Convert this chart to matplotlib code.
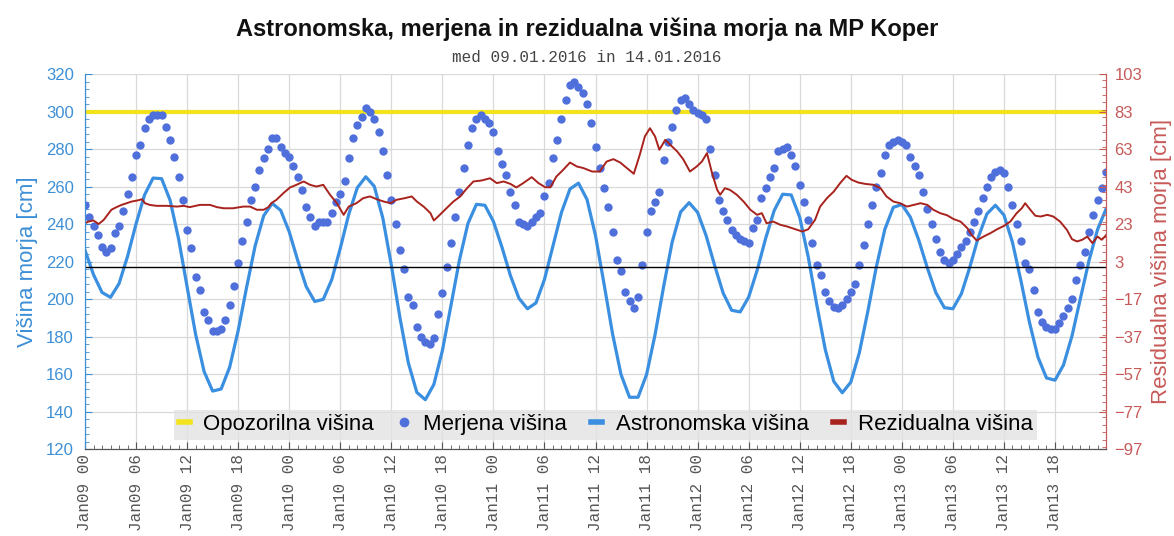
import matplotlib
matplotlib.use("Agg")
import matplotlib.pyplot as plt
import matplotlib.dates as mdates
from matplotlib.lines import Line2D
from matplotlib.ticker import MultipleLocator, FixedLocator
import numpy as np
import pandas as pd

plt.rcParams["font.family"] = ["Liberation Sans", "DejaVu Sans"]

start = pd.Timestamp("2016-01-09 00:00")

# measured sea level, every 30 min [cm]
measured_cm = [
    250, 244, 239, 234, 228, 225, 227, 235, 239, 247, 256, 265,
    277, 282, 291, 296, 298, 298, 298, 292, 285, 276, 265, 253,
    237, 227, 212, 205, 193, 189, 183, 183, 184, 189, 197, 207,
    219, 231, 241, 253, 260, 269, 275, 280, 286, 286, 281, 278,
    276, 271, 265, 258, 249, 244, 239, 241, 241, 241, 246, 252,
    256, 263, 275, 286, 293, 297, 302, 300, 296, 289, 279, 266,
    253, 240, 226, 216, 201, 197, 185, 180, 177, 176, 179, 192,
    203, 217, 230, 244, 257, 270, 282, 291, 296, 298, 296, 294,
    289, 279, 272, 266, 257, 250, 241, 240, 239, 241, 244, 246,
    255, 262, 275, 285, 296, 306, 314, 316, 313, 310, 304, 294,
    281, 270, 259, 249, 236, 221, 215, 204, 199, 195, 201, 218,
    236, 247, 252, 257, 274, 284, 292, 301, 306, 307, 304, 301,
    299, 298, 296, 280, 266, 253, 247, 242, 237, 234, 232, 231,
    230, 238, 242, 254, 259, 265, 270, 279, 280, 281, 277, 271,
    261, 252, 242, 230, 218, 213, 204, 199, 196, 195, 197, 200,
    204, 208, 218, 229, 240, 250, 260, 267, 277, 282, 284, 285,
    284, 282, 276, 271, 266, 257, 248, 240, 232, 225, 221, 219,
    221, 224, 228, 231, 236, 241, 247, 254, 260, 265, 268, 269,
    267, 260, 250, 240, 231, 219, 216, 205, 193, 188, 185, 184,
    184, 187, 191, 195, 200, 210, 218, 225, 236, 245, 253, 259,
    268,
]

# astronomical tide, hourly [cm]
astro_cm = [
    226, 213, 203.5, 200.9, 208.2, 222.7, 240.1, 255.5, 264.5,
    264.2, 252.7, 232.1, 206.5, 181.2, 161.3, 150.9,
    152.0, 163.6, 183.1, 206.4, 228.4, 244.4, 251.0,
    247.3, 235.9, 220.6, 206.6, 198.7,
    199.8, 210.3, 227.0, 245.2, 259.3, 265.2,
    260.1, 243.2, 218.2, 190.4, 166.0, 150.2,
    146.3, 154.4, 172.4, 196.3, 220.6, 240.2, 250.5,
    250.0, 241.4, 227.7, 212.5, 200.4, 194.8,
    197.9, 210.4, 228.3, 246.2, 258.7, 261.8,
    253.1, 233.8, 208.1, 181.5, 159.7, 147.6,
    147.6, 159.7, 181.0, 206.5, 230.2, 246.4, 251.4,
    246.2, 233.8, 217.9, 203.2, 194.0,
    193.1, 201.0, 215.4, 232.4, 247.2, 255.9,
    255.5, 243.6, 222.5, 197.1, 173.1, 156.1, 150.0,
    155.6, 171.2, 193.3, 217.0, 237.1, 248.9,
    250.4, 243.7, 231.3, 216.6, 203.4, 195.4,
    194.8, 202.8, 217.1, 233.1, 245.4, 250.0,
    244.8, 230.3, 209.7, 187.6, 169.0, 157.9,
    156.7, 164.8, 180.3, 200.5, 220.5, 237.0, 248.0,
]

# residual sea level [cm], read at irregular times (hours after start)
res_hours = [
    0, 0.4, 1.0, 1.6, 2.2, 2.5, 3.1, 3.7, 4.3, 4.9, 5.5, 6.1, 6.7, 7.05,
    7.6, 8.4, 9.6, 10.8, 11.6, 12.3, 13.5, 14.7, 15.5, 16.3, 17.4, 18.6,
    19.4, 20.2, 21.0, 21.55, 21.9, 22.5, 23.3, 24.1, 24.9, 25.7, 26.45,
    27.2, 28.0, 28.8, 29.6, 30.4, 31.0, 31.9, 32.7, 33.5, 34.3, 35.1,
    35.9, 36.6, 37.6, 38.4, 39.0, 39.8, 40.6, 41.0, 41.5, 42.3, 43.3,
    44.1, 44.9, 45.65, 46.6, 47.6, 48.4, 49.2, 50.0, 50.7, 51.5, 52.5,
    53.3, 54.1, 54.7, 55.4, 56.2, 57.0, 57.8, 58.6, 59.6, 60.5, 61.3,
    62.1, 62.9, 63.7, 64.5, 65.2, 65.8, 66.4, 67.0, 67.5, 68.2, 68.8,
    69.6, 70.3, 71.1, 71.9, 72.5, 73.1, 73.7, 74.3, 74.65, 75.2, 75.8,
    76.6, 77.4, 78.2, 79.0, 79.55, 80.1, 80.9, 81.7, 82.5, 83.5, 84.3,
    85.0, 85.8, 86.4, 87.2, 88.0, 88.8, 89.5, 90.1, 90.9, 91.7, 92.7,
    93.5, 94.2, 95.0, 95.8, 96.6, 97.4, 98.2, 99.0, 99.7, 100.5, 101.3,
    102.1, 102.9, 103.7, 104.2, 104.8, 105.6, 106.4, 107.2, 108.0,
    108.75, 109.5, 110.1, 110.5, 111.1, 111.7, 112.3, 113.1, 113.8,
    114.6, 115.4, 116.0, 116.6, 117.2, 117.8, 118.4, 119.0, 119.5, 120.0,
]
res_cm = [
    23.4, 24.3, 24.9, 23.0, 25.2, 27.0, 30.6, 32.0, 33.2, 34.1, 35.0, 35.5,
    36.2, 34.1, 33.2, 32.7, 32.7, 32.3, 32.7, 32.0, 33.2, 33.2, 32.0, 31.4,
    31.4, 32.3, 32.3, 30.6, 30.6, 32.0, 34.1, 35.9, 39.4, 42.5, 44.0, 45.7,
    43.9, 43.0, 43.9, 38.6, 34.1, 27.9, 32.3, 34.1, 36.8, 37.7, 36.2, 35.0,
    34.1, 35.9, 36.8, 37.7, 35.0, 32.3, 28.8, 24.9, 27.0, 30.6, 35.0, 37.7,
    42.1, 45.7, 46.2, 47.4, 44.8, 45.7, 44.4, 42.5, 44.8, 48.0, 44.8, 42.6,
    42.6, 48.3, 51.9, 55.8, 53.7, 52.8, 51.0, 51.0, 56.3, 57.6, 55.8, 52.8,
    49.8, 59.9, 69.7, 74.1, 69.7, 62.6, 67.9, 65.2, 61.7, 57.6, 51.0, 53.7,
    56.3, 60.8, 50.1, 41.2, 38.6, 42.1, 41.2, 38.6, 35.0, 30.6, 27.9, 28.8,
    23.4, 24.3, 22.6, 21.7, 20.2, 19.0, 20.2, 25.2, 32.3, 36.8, 40.3, 45.1,
    48.7, 46.6, 45.1, 44.4, 43.9, 42.1, 37.7, 35.0, 34.1, 32.3, 33.2, 34.1,
    33.2, 30.6, 28.8, 27.7, 25.6, 24.3, 20.8, 17.2, 14.2, 16.3, 18.1, 20.2,
    22.0, 24.3, 28.8, 31.4, 34.1, 30.6, 27.4, 27.0, 27.9, 27.0, 24.3, 19.9,
    14.9, 13.7, 14.6, 16.3, 12.8, 16.3, 14.6, 17.0,
]

warning_level = 300
left_ticks = list(range(120, 321, 20))
right_ticks = list(range(-97, 104, 20))

measured_t = start + pd.to_timedelta(np.arange(len(measured_cm)) * 30, unit="min")
astro_t = start + pd.to_timedelta(np.arange(len(astro_cm)), unit="h")
res_t = start + pd.to_timedelta(res_hours, unit="h")

c_yellow = "#f2e31c"
c_dots = "#4f6fdb"
c_astro = "#3a8fe0"
c_res = "#a8231d"
c_left = "#3d8fd6"
c_right = "#c65a58"

fig = plt.figure(figsize=(11.74, 5.36), dpi=100)
ax = fig.add_axes([0.0724, 0.1623, 0.8697, 0.6996])
ax2 = ax.twinx()

ax.axhline(warning_level, color=c_yellow, lw=3, zorder=2)
ax.plot(astro_t, astro_cm, color=c_astro, lw=2.3, zorder=3)
ax.plot(measured_t, measured_cm, "o", color=c_dots, ms=6, mec="none", zorder=4)
ax2.axhline(0, color="black", lw=1)
ax2.plot(res_t, res_cm, color=c_res, lw=1.4)

ax.set_xlim(start, start + pd.Timedelta(hours=120))
ax.set_ylim(120, 320)
ax2.set_ylim(-97, 103)

ax.set_yticks(left_ticks)
ax.yaxis.set_minor_locator(MultipleLocator(4))
ax2.set_yticks(right_ticks)
ax2.yaxis.set_minor_locator(MultipleLocator(4))

xticks = pd.date_range(start, periods=20, freq="6h")
ax.xaxis.set_major_locator(FixedLocator(mdates.date2num(xticks)))
ax.xaxis.set_minor_locator(mdates.HourLocator())
ax.xaxis.set_major_formatter(mdates.DateFormatter("%b%d %H"))
for lab in ax.get_xticklabels():
    lab.set_rotation(90)
    lab.set_family("Liberation Mono")
    lab.set_fontsize(11.5)
    lab.set_color("#555555")

ax.grid(True, which="major", color="#d9d9d9", lw=0.9)
ax.set_axisbelow(True)

ax.tick_params(axis="y", which="both", direction="in", colors=c_left, labelsize=12, pad=8)
ax.tick_params(axis="y", which="major", length=5)
ax.tick_params(axis="y", which="minor", length=3)
ax.tick_params(axis="x", which="both", direction="in", color="#555555")
ax.tick_params(axis="x", which="major", length=5)
ax.tick_params(axis="x", which="minor", length=3)
ax2.tick_params(axis="y", which="both", direction="in", colors=c_right, labelsize=12, pad=6)
ax2.tick_params(axis="y", which="major", length=5)
ax2.tick_params(axis="y", which="minor", length=3)

for a in (ax, ax2):
    a.spines["top"].set_visible(False)
    a.spines["left"].set_color(c_left)
    a.spines["right"].set_color(c_right)
    a.spines["bottom"].set_color("#555555")

ax.set_ylabel("Višina morja [cm]", color=c_left, fontsize=16, labelpad=6)
ax2.set_ylabel("Residualna višina morja [cm]", color=c_right, fontsize=16, labelpad=6)

fig.text(0.5, 0.945, "Astronomska, merjena in rezidualna višina morja na MP Koper",
         ha="center", va="center", fontsize=17, fontweight="bold", color="#111111")
fig.text(0.5, 0.893, "med 09.01.2016 in 14.01.2016", ha="center", va="center",
         fontsize=11.5, family="Liberation Mono", color="#444444")

handles = [
    Line2D([], [], color=c_yellow, lw=4),
    Line2D([], [], ls="none", marker="o", color=c_dots, ms=7, mec="none"),
    Line2D([], [], color=c_astro, lw=4),
    Line2D([], [], color=c_res, lw=4),
]
labels = ["Opozorilna višina", "Merjena višina", "Astronomska višina", "Rezidualna višina"]
leg = ax2.legend(handles, labels, loc="lower center", bbox_to_anchor=(0.51, 0.025),
                 ncol=4, fontsize=16, handlelength=0.5, handletextpad=0.6,
                 columnspacing=1.1, fancybox=False, framealpha=0.8,
                 borderpad=0.2, borderaxespad=0)
leg.get_frame().set_facecolor("#e3e3e3")
leg.get_frame().set_edgecolor("none")

fig.savefig("out.png", dpi=100)
